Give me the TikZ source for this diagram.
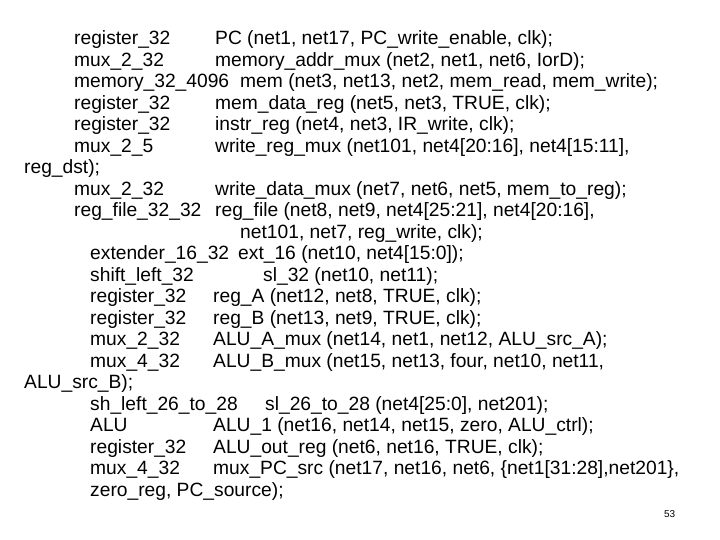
\documentclass[tikz,border=0pt]{standalone}
\usepackage{fontspec}
\setmainfont{Liberation Sans}
\begin{document}
\begin{tikzpicture}[x=1bp,y=1bp,t/.style={anchor=base west,inner sep=0pt,font=\fontsize{19.3}{22}\selectfont}]
\useasboundingbox (0,0) rectangle (720,-540);
\def\L#1#2#3#4#5{\node[t] at (#1,{-45-21.48*#5}) {#2}; \node[t] at (#3,{-45-21.48*#5}) {#4};}
\L{74}{register\_32}{215}{PC (net1, net17, PC\_write\_enable, clk);}{0}
\L{74}{mux\_2\_32}{215}{memory\_addr\_mux (net2, net1, net6, IorD);}{1}
\L{74}{memory\_32\_4096}{240}{mem (net3, net13, net2, mem\_read, mem\_write);}{2}
\L{74}{register\_32}{215}{mem\_data\_reg (net5, net3, TRUE, clk);}{3}
\L{74}{register\_32}{215}{instr\_reg (net4, net3, IR\_write, clk);}{4}
\L{74}{mux\_2\_5}{215}{write\_reg\_mux (net101, net4[20:16], net4[15:11],}{5}
\node[t] at (24,{-45-21.48*6}) {reg\_dst);};
\L{74}{mux\_2\_32}{215}{write\_data\_mux (net7, net6, net5, mem\_to\_reg);}{7}
\L{74}{reg\_file\_32\_32}{215}{reg\_file (net8, net9, net4[25:21], net4[20:16],}{8}
\node[t] at (240,{-45-21.48*9}) {net101, net7, reg\_write, clk);};
\L{90}{extender\_16\_32}{238}{ext\_16 (net10, net4[15:0]);}{10}
\L{90}{shift\_left\_32}{263}{sl\_32 (net10, net11);}{11}
\L{90}{register\_32}{213}{reg\_A (net12, net8, TRUE, clk);}{12}
\L{90}{register\_32}{213}{reg\_B (net13, net9, TRUE, clk);}{13}
\L{90}{mux\_2\_32}{213}{ALU\_A\_mux (net14, net1, net12, ALU\_src\_A);}{14}
\L{90}{mux\_4\_32}{213}{ALU\_B\_mux (net15, net13, four, net10, net11,}{15}
\node[t] at (24,{-45-21.48*16}) {ALU\_src\_B);};
\L{90}{sh\_left\_26\_to\_28}{265}{sl\_26\_to\_28 (net4[25:0], net201);}{17}
\L{90}{ALU}{213}{ALU\_1 (net16, net14, net15, zero, ALU\_ctrl);}{18}
\L{90}{register\_32}{213}{ALU\_out\_reg (net6, net16, TRUE, clk);}{19}
\L{90}{mux\_4\_32}{213}{mux\_PC\_src (net17, net16, net6, \{net1[31:28],net201\},}{20}
\node[t] at (90,{-45-21.48*21}) {zero\_reg, PC\_source);};
\node[anchor=base west,inner sep=0pt,font=\fontsize{10}{12}\selectfont] at (664,-517) {53};
\end{tikzpicture}
\end{document}
